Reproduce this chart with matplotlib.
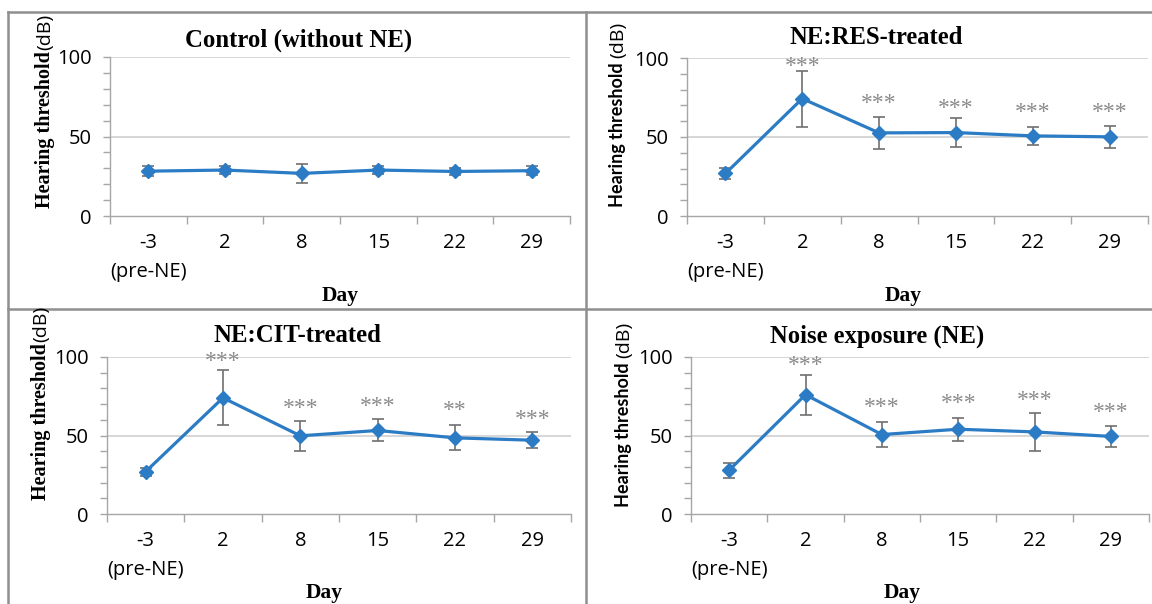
import matplotlib
matplotlib.use("Agg")
import matplotlib.pyplot as plt
from matplotlib.lines import Line2D
import numpy as np

W, H = 1152, 604
days = ["-3\n(pre-NE)", "2", "8", "15", "22", "29"]

titles = ["Control (without NE)", "NE:RES-treated", "NE:CIT-treated", "Noise exposure (NE)"]

ctrl_mean = [28.2, 28.9, 26.8, 28.9, 28.0, 28.5]
ctrl_err = [3.0, 2.5, 6.0, 2.5, 2.5, 3.0]
ctrl_sig = ["", "", "", "", "", ""]
ctrl_sig_y = [0, 0, 0, 0, 0, 0]

res_mean = [26.9, 74.3, 52.6, 52.8, 50.7, 50.1]
res_err = [3.6, 17.7, 10.3, 9.0, 5.5, 7.0]
res_sig = ["", "***", "***", "***", "***", "***"]
res_sig_y = [0, 96.4, 72.8, 69.5, 67.0, 67.0]

cit_mean = [27.0, 74.0, 49.8, 53.2, 48.5, 47.0]
cit_err = [2.5, 17.6, 9.6, 7.0, 7.9, 5.2]
cit_sig = ["", "***", "***", "***", "**", "***"]
cit_sig_y = [0, 98.5, 68.7, 70.2, 67.4, 61.7]

ne_mean = [27.9, 76.0, 50.6, 54.0, 52.3, 49.4]
ne_err = [4.9, 12.7, 8.0, 7.3, 12.2, 6.7]
ne_sig = ["", "***", "***", "***", "***", "***"]
ne_sig_y = [0, 96.2, 69.1, 72.1, 73.8, 66.0]

panels = [
    dict(mean=ctrl_mean, err=ctrl_err, sig=ctrl_sig, sig_y=ctrl_sig_y,
         box=(110, 570, 57, 216), title_span=(185, 412), title_y=40, day_xy=(340, 296),
         ylab_x=45, ylab_bottom=208, serif_ylab=True),
    dict(mean=res_mean, err=res_err, sig=res_sig, sig_y=res_sig_y,
         box=(687, 1148, 58, 216), title_span=(790, 963), title_y=38, day_xy=(903, 296),
         ylab_x=618, ylab_bottom=207, serif_ylab=False),
    dict(mean=cit_mean, err=cit_err, sig=cit_sig, sig_y=cit_sig_y,
         box=(107, 571, 357, 514), title_span=(213, 381), title_y=336, day_xy=(324, 593),
         ylab_x=41, ylab_bottom=500, serif_ylab=True),
    dict(mean=ne_mean, err=ne_err, sig=ne_sig, sig_y=ne_sig_y,
         box=(691, 1149, 357, 514), title_span=(770, 984), title_y=336, day_xy=(902, 593),
         ylab_x=624, ylab_bottom=507, serif_ylab=False),
]

blue = "#2b7cc4"
axis_gray = "#a6a6a6"
grid_gray = "#d0d0d0"
sans = "Open Sans"
sans_bold = "Lato"
serif = "Liberation Serif"

fig = plt.figure(figsize=(W / 100, H / 100), dpi=100)
fig.patch.set_facecolor("white")
renderer = fig.canvas.get_renderer()


def fx(px):
    return px / W


def fy(py):
    return 1 - py / H


def fit_text(t, target_px):
    bb = t.get_window_extent(renderer=renderer)
    if bb.width > 0:
        t.set_fontsize(t.get_fontsize() * target_px / bb.width)


x = np.arange(len(days))

for i, p in enumerate(panels):
    l, r, t, b = p["box"]
    ax = fig.add_axes([fx(l), fy(b), (r - l) / W, (b - t) / H])
    ax.set_xlim(-0.5, len(days) - 0.5)
    ax.set_ylim(0, 100)
    for s in ["top", "right"]:
        ax.spines[s].set_visible(False)
    for s in ["left", "bottom"]:
        ax.spines[s].set_color(axis_gray)
        ax.spines[s].set_linewidth(1.0)
    ax.set_yticks([0, 50, 100])
    ax.set_yticks(np.arange(0, 101, 10), minor=True)
    ax.tick_params(axis="y", which="both", direction="out", length=5, color=axis_gray, width=1.0)
    ax.tick_params(axis="y", which="major", labelsize=14.5, pad=8, labelcolor="#000000")
    for tl in ax.get_yticklabels():
        tl.set_fontfamily(sans)
    for yv in [50, 100]:
        ax.axhline(yv, color=grid_gray, lw=1.2, zorder=0)
    ax.set_xticks(np.arange(-0.5, len(days), 1.0))
    ax.set_xticklabels([])
    ax.tick_params(axis="x", which="major", direction="out", length=6, color=axis_gray, width=1.0)
    ax.set_xticks(x, minor=True)
    ax.set_xticklabels(days, minor=True, fontsize=14.5, fontfamily=sans, linespacing=1.6)
    ax.tick_params(axis="x", which="minor", length=0, pad=12)

    ax.errorbar(x, p["mean"], yerr=p["err"], color=blue, lw=2.3,
                marker="D", markersize=7, markerfacecolor=blue, markeredgecolor=blue,
                ecolor="#707070", elinewidth=1.2, capsize=4, capthick=1.2, zorder=3)
    for xi, s, sy in zip(x, p["sig"], p["sig_y"]):
        if s:
            ax.text(xi, sy - 1.5, s, ha="center", va="center", fontsize=17,
                    fontfamily=serif, color="#8a8a8a", zorder=4)

    ts = p["title_span"]
    tt = fig.text(fx((ts[0] + ts[1]) / 2), fy(p["title_y"]), titles[i], ha="center", va="center",
                  fontsize=17, fontweight="bold", fontfamily=serif)
    fit_text(tt, ts[1] - ts[0])
    dx, dy = p["day_xy"]
    fig.text(fx(dx), fy(dy), "Day", ha="center", va="center",
             fontsize=15.5, fontweight="bold", fontfamily=serif)
    if p["serif_ylab"]:
        yl = fig.text(fx(p["ylab_x"]), fy(p["ylab_bottom"]), "Hearing threshold", rotation=90,
                      ha="center", va="bottom", fontsize=14.5, fontweight="bold", fontfamily=serif)
    else:
        yl = fig.text(fx(p["ylab_x"]), fy(p["ylab_bottom"]), "Hearing threshold", rotation=90,
                      ha="center", va="bottom", fontsize=13, fontweight="bold", fontfamily=sans_bold)
    bb = yl.get_window_extent(renderer=renderer)
    gap = 1 if p["serif_ylab"] else 4
    fig.text(fx(p["ylab_x"]), (bb.y1 + gap) / H, "(dB)", rotation=90,
             ha="center", va="bottom", fontsize=14, fontfamily=sans)

border = "#8f8f8f"
lines = [
    ((8, 1152), (12, 12)),
    ((8, 8), (12, 604)),
    ((586, 586), (12, 604)),
    ((8, 1152), (309, 309)),
]
for xs, ys in lines:
    fig.add_artist(Line2D([fx(xs[0]), fx(xs[1])], [fy(ys[0]), fy(ys[1])],
                          color=border, lw=1.8, transform=fig.transFigure))

fig.savefig("out.png", dpi=100, facecolor="white")
